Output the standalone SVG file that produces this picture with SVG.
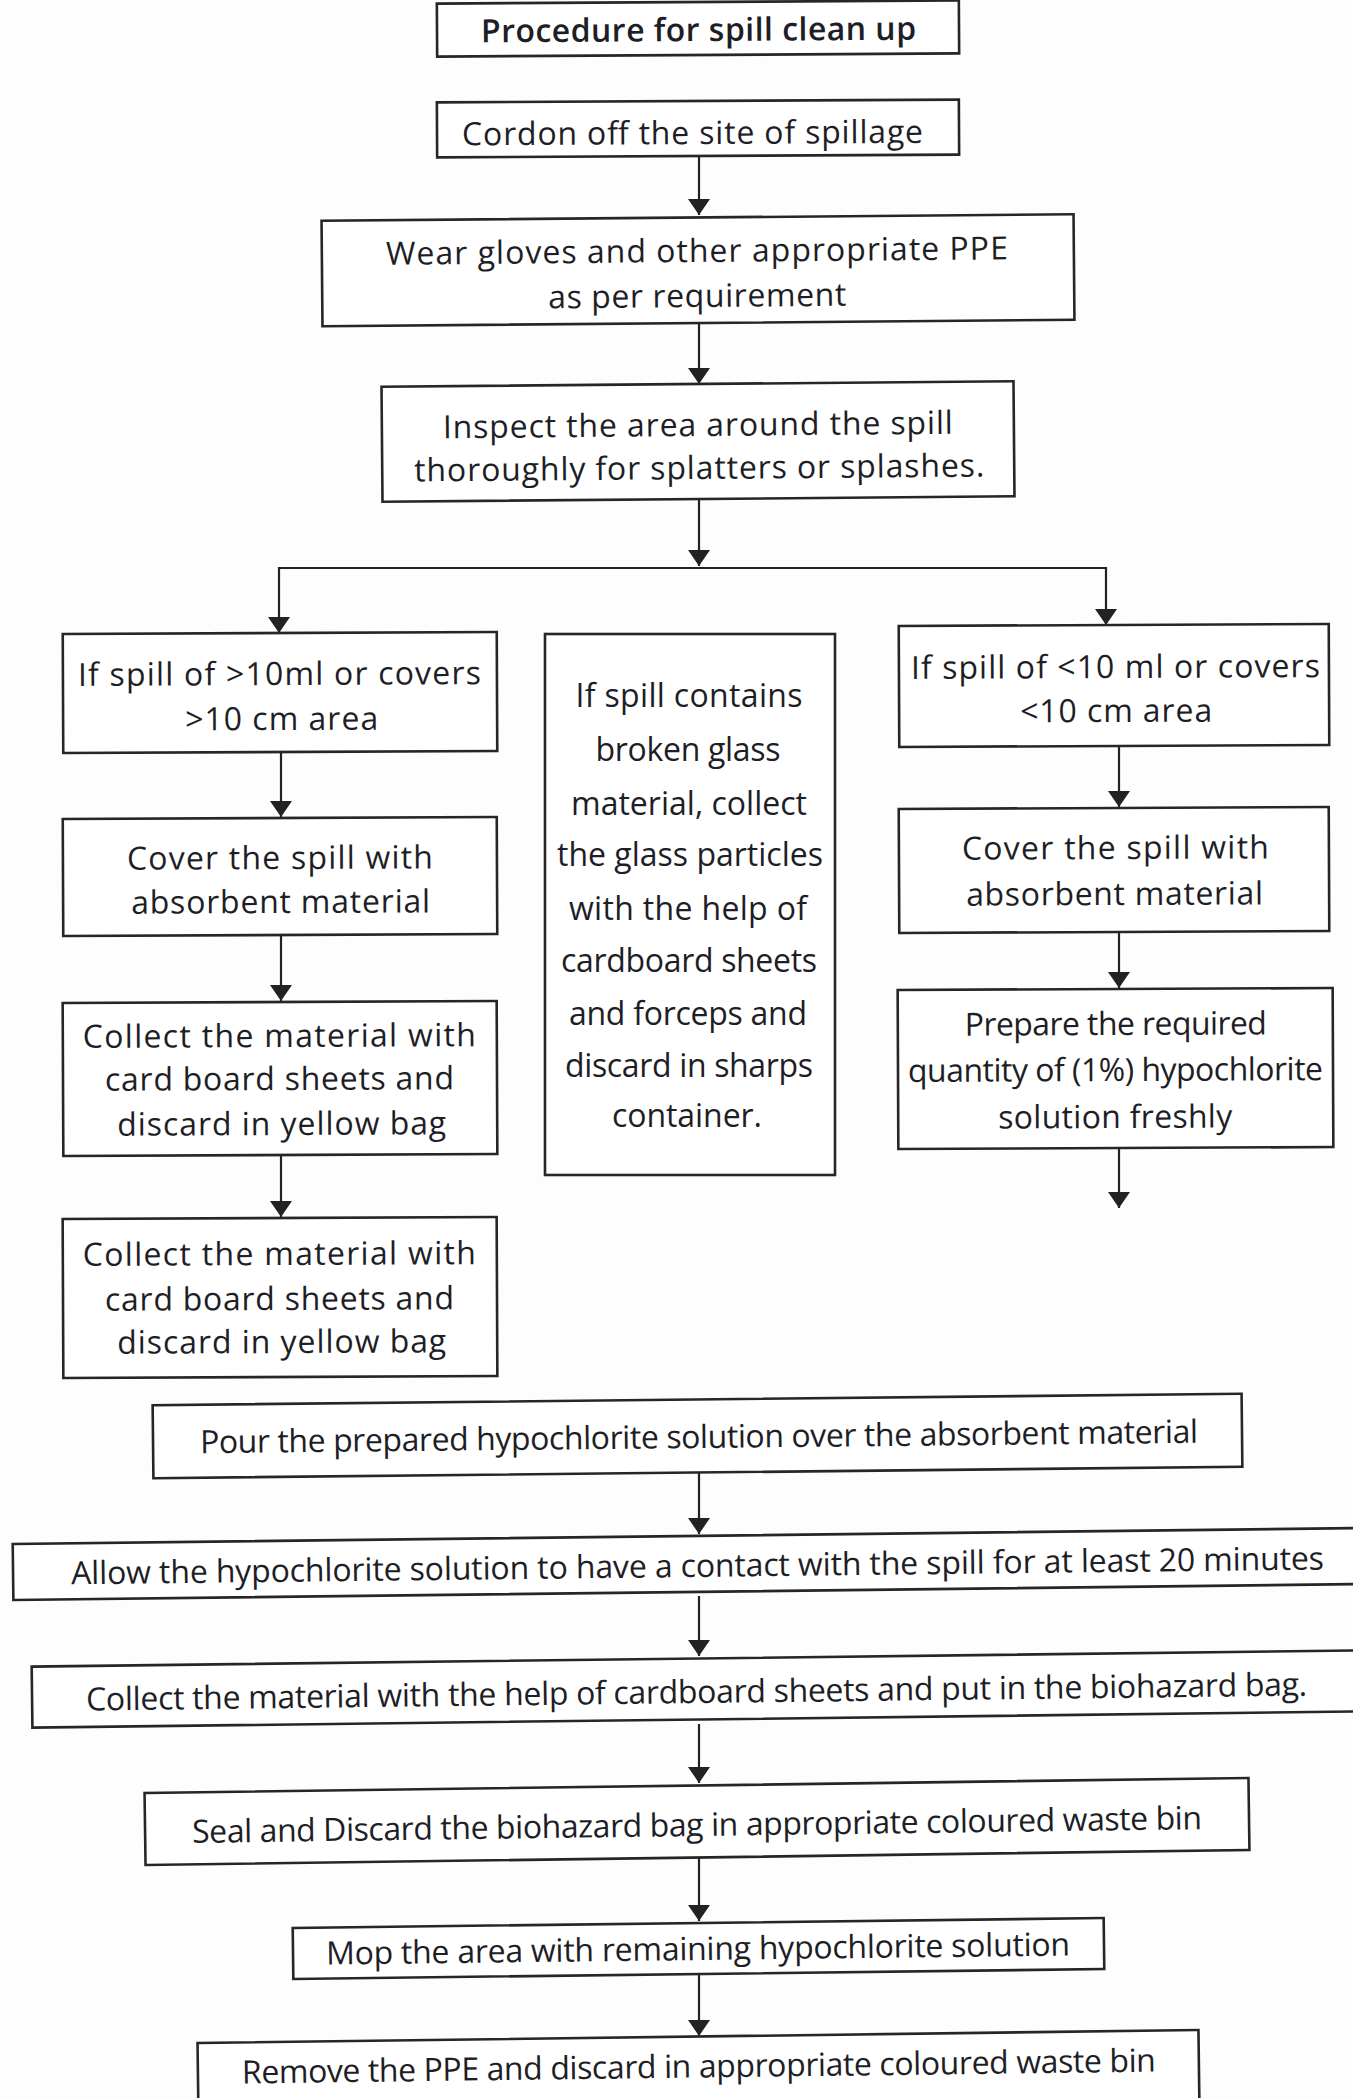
<svg xmlns="http://www.w3.org/2000/svg" width="1353" height="2098" viewBox="0 0 1353 2098">
<defs>
<marker id="ah" viewBox="0 0 16 22" refX="16" refY="11" markerWidth="16" markerHeight="22" markerUnits="userSpaceOnUse" orient="auto">
<path d="M0,0 L16,11 L0,22 z" fill="#222"/>
</marker>
<style>
.box{fill:#ffffff;stroke:#262626;stroke-width:2.6}
.t{font-family:"Open Sans","Liberation Sans",sans-serif;font-size:32px;fill:#1e1e26;text-anchor:middle}
.ti{font-weight:600}
.c{fill:none;stroke:#222;stroke-width:2.2}
</style>
</defs>
<rect x="0" y="0" width="1353" height="2098" fill="#fdfdfd"/>

<g id="connectors">
<path class="c" d="M699,157 V215" marker-end="url(#ah)"/>
<path class="c" d="M699,324 V384" marker-end="url(#ah)"/>
<path class="c" d="M699,500 V566" marker-end="url(#ah)"/>
<path class="c" d="M699,568 H279 V633" marker-end="url(#ah)"/>
<path class="c" d="M699,568 H1106 V625" marker-end="url(#ah)"/>
<path class="c" d="M281,752 V817" marker-end="url(#ah)"/>
<path class="c" d="M281,935 V1001" marker-end="url(#ah)"/>
<path class="c" d="M281,1155 V1217" marker-end="url(#ah)"/>
<path class="c" d="M1119,746 V807" marker-end="url(#ah)"/>
<path class="c" d="M1119,932 V988" marker-end="url(#ah)"/>
<path class="c" d="M1119,1148 V1208" marker-end="url(#ah)"/>
<path class="c" d="M699,1472 V1534" marker-end="url(#ah)"/>
<path class="c" d="M699,1596 V1656" marker-end="url(#ah)"/>
<path class="c" d="M699,1724 V1783" marker-end="url(#ah)"/>
<path class="c" d="M699,1856 V1921" marker-end="url(#ah)"/>
<path class="c" d="M699,1972 V2036" marker-end="url(#ah)"/>
</g>

<g id="n-title" transform="rotate(-0.35 698 28)">
<rect class="box" x="437" y="2" width="522" height="53"/>
<text class="t ti" x="698.5" y="41" textLength="435">Procedure for spill clean up</text>
</g>

<g id="n-cordon" transform="rotate(-0.3 698 128.5)">
<rect class="box" x="437" y="101" width="522" height="55"/>
<text class="t" x="692.5" y="144" textLength="461">Cordon off the site of spillage</text>
</g>

<g id="n-wear" transform="rotate(-0.5 698 270)">
<rect class="box" x="322" y="217.5" width="752" height="105.5"/>
<text class="t" x="697" y="262" textLength="622">Wear gloves and other appropriate PPE</text>
<text class="t" x="697" y="307" textLength="298">as per requirement</text>
</g>

<g id="n-inspect" transform="rotate(-0.5 698 441.5)">
<rect class="box" x="382" y="384" width="632" height="115"/>
<text class="t" x="698" y="436" textLength="510">Inspect the area around the spill</text>
<text class="t" x="699" y="479" textLength="570">thoroughly for splatters or splashes.</text>
</g>

<g id="n-left1" transform="rotate(-0.25 280 692.5)">
<rect class="box" x="63" y="633" width="434" height="119"/>
<text class="t" x="279.5" y="685" textLength="403">If spill of &gt;10ml or covers</text>
<text class="t" x="281.5" y="730" textLength="193">&gt;10 cm area</text>
</g>

<g id="n-left2" transform="rotate(-0.25 280 876.5)">
<rect class="box" x="63" y="818" width="434" height="117"/>
<text class="t" x="280" y="869" textLength="306">Cover the spill with</text>
<text class="t" x="280.5" y="913" textLength="299">absorbent material</text>
</g>

<g id="n-left3" transform="rotate(-0.25 280 1078.5)">
<rect class="box" x="63" y="1002" width="434" height="153"/>
<text class="t" x="279.5" y="1047" textLength="393">Collect the material with</text>
<text class="t" x="279.5" y="1090" textLength="349">card board sheets and</text>
<text class="t" x="281.5" y="1135" textLength="329">discard in yellow bag</text>
</g>

<g id="n-left4" transform="rotate(-0.25 280 1297.5)">
<rect class="box" x="63" y="1218" width="434" height="159"/>
<text class="t" x="279.5" y="1265" textLength="393">Collect the material with</text>
<text class="t" x="279.5" y="1310" textLength="349">card board sheets and</text>
<text class="t" x="281.5" y="1353" textLength="329">discard in yellow bag</text>
</g>

<g id="n-middle">
<rect class="box" x="545" y="634" width="290" height="541"/>
<text class="t" x="689" y="707" textLength="227">If spill contains</text>
<text class="t" x="688" y="761" textLength="185">broken glass</text>
<text class="t" x="689" y="815" textLength="236">material, collect</text>
<text class="t" x="690" y="866" textLength="266">the glass particles</text>
<text class="t" x="688" y="920" textLength="238">with the help of</text>
<text class="t" x="689" y="972" textLength="256">cardboard sheets</text>
<text class="t" x="688" y="1025" textLength="238">and forceps and</text>
<text class="t" x="689" y="1077" textLength="248">discard in sharps</text>
<text class="t" x="687" y="1127" textLength="150">container.</text>
</g>

<g id="n-right1" transform="rotate(-0.25 1114 685.5)">
<rect class="box" x="899" y="625" width="430" height="121"/>
<text class="t" x="1115.5" y="678" textLength="409">If spill of &lt;10 ml or covers</text>
<text class="t" x="1116" y="722" textLength="192">&lt;10 cm area</text>
</g>

<g id="n-right2" transform="rotate(-0.25 1114 870)">
<rect class="box" x="899" y="808" width="430" height="124"/>
<text class="t" x="1115.5" y="859" textLength="307">Cover the spill with</text>
<text class="t" x="1114.5" y="905" textLength="297">absorbent material</text>
</g>

<g id="n-right3" transform="rotate(-0.25 1115.5 1068.5)">
<rect class="box" x="898" y="989" width="435" height="159"/>
<text class="t" x="1116" y="1035" textLength="302">Prepare the required</text>
<text class="t" x="1115.5" y="1081" textLength="415">quantity of (1%) hypochlorite</text>
<text class="t" x="1115" y="1128" textLength="234">solution freshly</text>
</g>

<g id="n-pour" transform="rotate(-0.6 697.5 1436)">
<rect class="box" x="153" y="1399.5" width="1089" height="73"/>
<text class="t" x="699" y="1448" textLength="998">Pour the prepared hypochlorite solution over the absorbent material</text>
</g>

<g id="n-allow" transform="rotate(-0.68 689 1564)">
<rect class="box" x="13" y="1536" width="1352" height="56"/>
<text class="t" x="697.5" y="1577" textLength="1253">Allow the hypochlorite solution to have a contact with the spill for at least 20 minutes</text>
</g>

<g id="n-collect-bio" transform="rotate(-0.7 698 1689)">
<rect class="box" x="32" y="1658.5" width="1333" height="61"/>
<text class="t" x="696.5" y="1703" textLength="1221">Collect the material with the help of cardboard sheets and put in the biohazard bag.</text>
</g>

<g id="n-seal" transform="rotate(-0.78 697 1821.5)">
<rect class="box" x="145" y="1785.5" width="1104" height="72"/>
<text class="t" x="697" y="1836" textLength="1010">Seal and Discard the biohazard bag in appropriate coloured waste bin</text>
</g>

<g id="n-mop" transform="rotate(-0.7 698.5 1948.5)">
<rect class="box" x="293" y="1923" width="811" height="51"/>
<text class="t" x="698" y="1960" textLength="744">Mop the area with remaining hypochlorite solution</text>
</g>

<g id="n-remove" transform="rotate(-0.74 698.5 2076)">
<rect class="box" x="198" y="2036.5" width="1001" height="80"/>
<text class="t" x="699" y="2077.5" textLength="914">Remove the PPE and discard in appropriate coloured waste bin</text>
</g>
</svg>
